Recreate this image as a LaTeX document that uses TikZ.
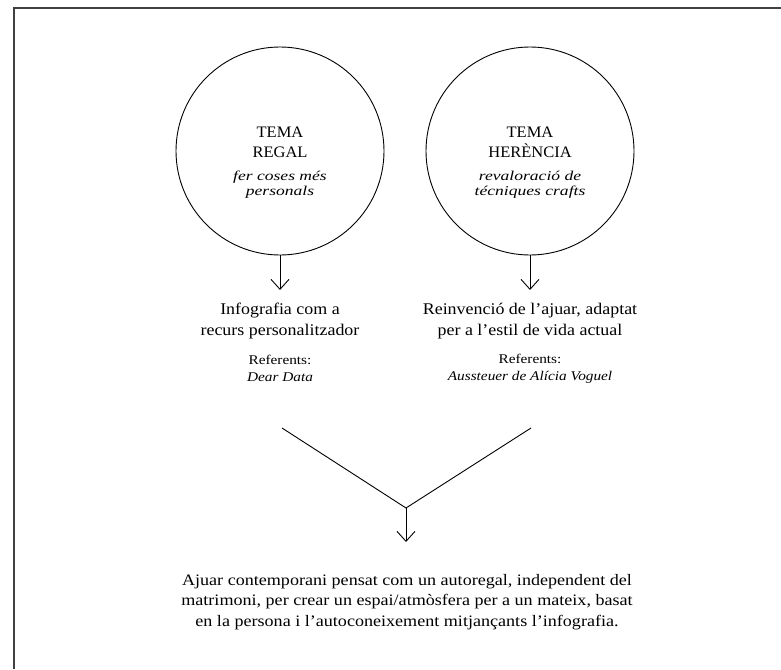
\documentclass[tikz,border=0pt]{standalone}
\usepackage{fontspec}
\setmainfont[FakeStretch=1.1]{Liberation Serif}
\newfontfamily\titlefont[FakeStretch=1.03]{Liberation Serif}
\newfontfamily\refsfont[FakeStretch=1.15]{Liberation Serif}
\newfontfamily\subfont[FakeStretch=1.3]{Liberation Serif}
\newfontfamily\botfont[FakeStretch=1.13]{Liberation Serif}
\usetikzlibrary{arrows.meta}
\begin{document}
\begin{tikzpicture}[x=1pt,y=-1pt,
  frameline/.style={draw=black!75,line width=1.1pt},
  ring/.style={circle,draw,line width=0.9pt,minimum size=208pt,inner sep=0pt},
  link/.style={line width=0.9pt},
  arrowlink/.style={line width=0.9pt,-{Straight Barb[length=10pt,width=18pt,line width=0.9pt]}},
  title/.style={align=center,font=\titlefont\fontsize{16}{20}\selectfont,inner sep=0pt},
  sub/.style={align=center,font=\subfont\fontsize{13.5}{15}\selectfont\itshape,inner sep=0pt},
  maintext/.style={align=center,font=\fontsize{16.3}{21}\selectfont,inner sep=0pt},
  reftext/.style={align=center,font=\refsfont\fontsize{13.3}{17}\selectfont,inner sep=0pt},
  bottomtext/.style={align=center,font=\botfont\fontsize{16}{20.5}\selectfont,inner sep=0pt}]
\useasboundingbox (0,0) rectangle (781,669);
\coordinate (fa) at (14,669);
\coordinate (fb) at (14,8);
\coordinate (fc) at (781,8);
\draw[frameline] (fa) -- (fb) -- (fc);

\node[ring] (c1) at (280,151) {};
\node[ring] (c2) at (530,151) {};

\node[title] (t1) at (280,142) {TEMA\\REGAL};
\node[sub] (s1) at (280,184.5) {fer coses més\\personals};
\node[title] (t2) at (530,142) {TEMA\\HERÈNCIA};
\node[sub] (s2) at (530,184.5) {revaloració de\\técniques crafts};

\node[maintext] (m1) at (280,321) {Infografia com a\\recurs personalitzador};
\node[reftext] (r1) at (280,368.5) {Referents:\\\textit{Dear Data}};
\node[maintext] (m2) at (530,321) {Reinvenció de l’ajuar, adaptat\\per a l’estil de vida actual};
\node[reftext] (r2) at (530,368.5) {Referents:\\\textit{Aussteuer de Alícia Voguel}};

\coordinate (a1) at (280,290);
\coordinate (a2) at (530,290);
\draw[arrowlink] (c1.south) -- (a1);
\draw[arrowlink] (c2.south) -- (a2);

\coordinate (vl) at (282,428);
\coordinate (vr) at (531,428);
\coordinate (vm) at (406,508);
\coordinate (vt) at (406,542);
\draw[link] (vl) -- (vm) -- (vr);
\draw[arrowlink] (vm) -- (vt);

\node[bottomtext] (b) at (407,602) {Ajuar contemporani pensat com un autoregal, independent del\\matrimoni, per crear un espai/atmòsfera per a un mateix, basat\\en la persona i l’autoconeixement mitjançants l’infografia.};
\end{tikzpicture}
\end{document}
